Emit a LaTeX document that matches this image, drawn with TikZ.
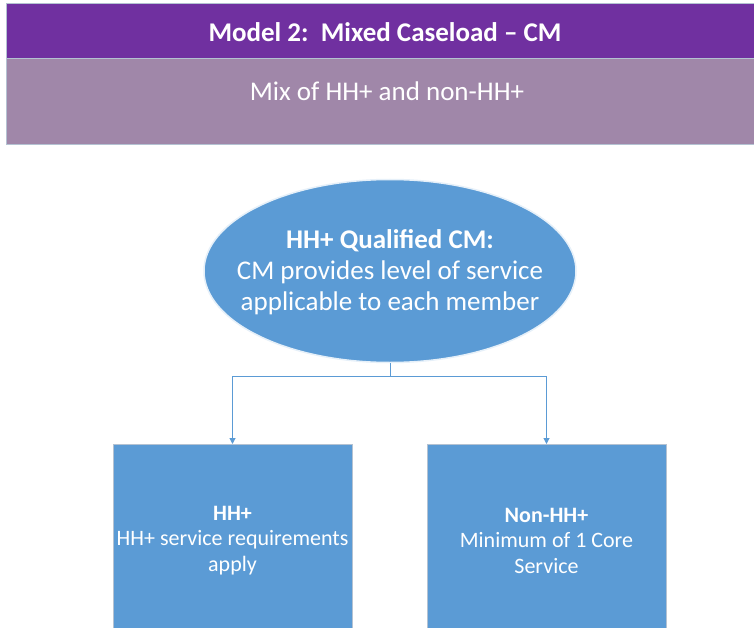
\documentclass[tikz,border=0pt]{standalone}
\usepackage{fontspec}
\setmainfont{Carlito}
\usetikzlibrary{arrows.meta,shapes.geometric}
\definecolor{hdrpurple}{HTML}{7030A0}
\definecolor{hdrmauve}{HTML}{A087A9}
\definecolor{boxblue}{HTML}{5B9BD5}
\definecolor{edgegrey}{HTML}{B4C2D2}
\tikzset{
  band/.style={draw=edgegrey, line width=0.8pt, inner sep=0pt, anchor=north west},
  bluebox/.style={fill=boxblue, draw=edgegrey, line width=1pt, minimum width=239pt, minimum height=190pt, anchor=north west, inner sep=0pt},
  boxtext/.style={text=white, align=center, inner sep=0pt, font=\fontsize{22}{25.5}\selectfont},
  blueell/.style={ellipse, fill=boxblue, draw=white!85!boxblue, line width=1.5pt, minimum width=372pt, minimum height=183pt, inner sep=0pt},
  elltext/.style={text=white, align=center, inner sep=0pt, font=\fontsize{27}{31}\selectfont},
  hdrtext/.style={text=white, inner sep=0pt, font=\fontsize{27}{31}\selectfont},
  link/.style={draw=boxblue, line width=1pt, -{Triangle[length=6pt,width=6pt]}}
}
\begin{document}
\begin{tikzpicture}[x=1pt,y=-1pt]
\useasboundingbox (0,0) rectangle (754,628);
\fill[white] (0,0) rectangle (754,628);
% header bands
\node[band, fill=hdrpurple, minimum width=760pt, minimum height=55pt] (title) at (6,3) {};
\node[hdrtext, font=\fontsize{27}{31}\selectfont\bfseries] (titletext) at (385,32) {Model 2:\ \ Mixed Caseload – CM};
\node[band, fill=hdrmauve, minimum width=760pt, minimum height=86pt] (sub) at (6,58) {};
\node[hdrtext] (subtext) at (387,91.5) {Mix of HH+ and non-HH+};
% ellipse
\node[blueell] (top) at (390,271) {};
\node[elltext] (toptext) at (390,272.5) {\textbf{HH+ Qualified CM:}\\CM provides level of service\\applicable to each member};
% boxes
\node[bluebox] (hh) at (113,444) {};
\node[boxtext] (hhtext) at (232.5,540.5) {\textbf{HH+}\\HH+ service requirements\\apply};
\node[bluebox] (non) at (427,444) {};
\node[boxtext] (nontext) at (546.5,540.5) {\textbf{Non-HH+}\\Minimum of 1 Core\\Service};
% connectors
\coordinate (split) at (390,376);
\draw[draw=boxblue, line width=1pt] (top.south) -- (split);
\draw[link] (split) -| (hh.north -| hhtext.center);
\draw[link] (split) -| (non.north -| nontext.center);
\end{tikzpicture}
\end{document}
